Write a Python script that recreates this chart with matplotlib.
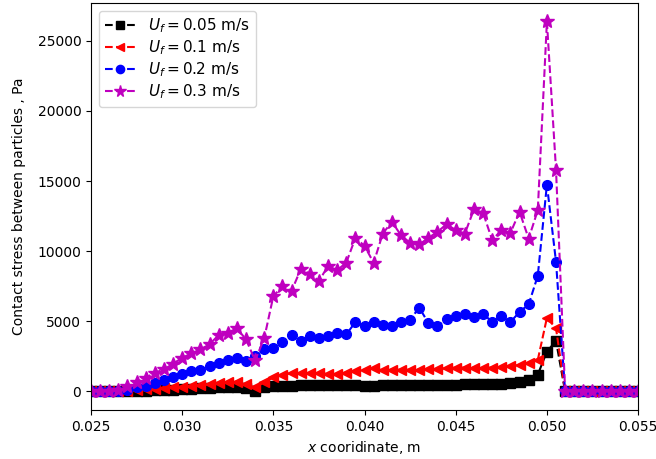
import numpy as np
import matplotlib.pyplot as plt

# x positions of the sampled cells, m
x = np.linspace(0.025, 0.055, 61)

# contact stress between particles, Pa
s_005 = [0, 0, 0, 0, 10, 30, 50, 80, 110, 140,
         170, 200, 230, 260, 290, 320, 350, 220, 50, 300,
         380, 400, 420, 430, 440, 450, 460, 470, 470, 470,
         380, 420, 470, 440, 480, 450, 460, 450, 430, 470,
         480, 500, 500, 510, 520, 540, 580, 700, 850, 1200,
         2850, 3600] + [0]*9
s_01 = [0, 0, 0, 20, 50, 100, 150, 200, 250, 300,
        350, 400, 450, 520, 600, 650, 700, 550, 300, 650,
        1000, 1200, 1300, 1300, 1300, 1300, 1250, 1250, 1350, 1450,
        1550, 1650, 1500, 1550, 1550, 1550, 1550, 1600, 1600, 1650,
        1700, 1700, 1700, 1700, 1700, 1750, 1800, 1900, 2050, 2250,
        5250, 4500] + [0]*9
s_02 = [0, 0, 0, 0, 100, 310, 380, 620, 810, 1050,
        1260, 1450, 1500, 1810, 2050, 2210, 2360, 2170, 2520, 3000,
        3100, 3520, 4000, 3600, 3930, 3810, 3930, 4190, 4070, 4950,
        4670, 4950, 4710, 4640, 4950, 5120, 5980, 4880, 4640, 5190,
        5350, 5500, 5310, 5550, 4950, 5360, 4950, 5670, 6210, 8250,
        14750, 9240] + [0]*9
s_03 = [0, 0, 30, 80, 380, 670, 980, 1330, 1570, 1980,
        2400, 2710, 3000, 3360, 4020, 4190, 4500, 3710, 2210, 3800,
        6800, 7500, 7170, 8710, 8400, 7880, 8950, 8640, 9190, 10950,
        10380, 9170, 11260, 12090, 11140, 10590, 10480, 10950, 11380, 11930,
        11500, 11260, 12980, 12740, 10790, 11500, 11310, 12810, 10900, 12930,
        26380, 15800] + [0]*9

fig = plt.figure(figsize=(6.56, 4.59), dpi=100)
ax = fig.add_axes([0.1387, 0.1068, 0.834, 0.8867])

ax.plot(x, s_005, 'k--', marker='s', ms=7, label=r'$U_f=0.05$ m/s')
ax.plot(x, s_01, 'r--', marker='<', ms=7, label=r'$U_f=0.1$ m/s')
ax.plot(x, s_02, 'b--', marker='o', ms=7, label=r'$U_f=0.2$ m/s')
ax.plot(x, s_03, 'm--', marker='*', ms=10, label=r'$U_f=0.3$ m/s')

ax.set_xlim(0.025, 0.055)
ax.set_xlabel(r'$x$ cooridinate, m')
ax.set_ylabel('Contact stress between particles , Pa', labelpad=8)
ax.legend(loc='upper left', fontsize=11, labelspacing=0.2, markerscale=0.85)

fig.savefig('out.png', dpi=100)
